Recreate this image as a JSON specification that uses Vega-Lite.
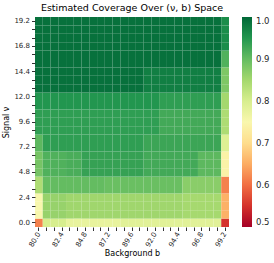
{
"$schema": "https://vega.github.io/schema/vega-lite/v6.json",
"width": 194, "height": 210,
"autosize": "none",
"padding": {"left": 35, "top": 17, "right": 45, "bottom": 36},
"title": {"text": "Estimated Coverage Over (ν, b) Space", "fontSize": 9.5, "font": "DejaVu Sans", "fontWeight": "normal", "color": "#000", "offset": 4},
"config": {"view": {"stroke": null}, "font": "DejaVu Sans"},
"data": {"values": [
{"b":80,"v":0,"c":0.615},{"b":80.8,"v":0,"c":0.8},{"b":81.6,"v":0,"c":0.8},{"b":82.4,"v":0,"c":0.8},{"b":83.2,"v":0,"c":0.775},{"b":84,"v":0,"c":0.775},{"b":84.8,"v":0,"c":0.775},{"b":85.6,"v":0,"c":0.775},{"b":86.4,"v":0,"c":0.775},{"b":87.2,"v":0,"c":0.775},{"b":88,"v":0,"c":0.775},{"b":88.8,"v":0,"c":0.785},{"b":89.6,"v":0,"c":0.785},{"b":90.4,"v":0,"c":0.785},{"b":91.2,"v":0,"c":0.785},{"b":92,"v":0,"c":0.785},{"b":92.8,"v":0,"c":0.785},{"b":93.6,"v":0,"c":0.785},{"b":94.4,"v":0,"c":0.785},{"b":95.2,"v":0,"c":0.785},{"b":96,"v":0,"c":0.785},{"b":96.8,"v":0,"c":0.785},{"b":97.6,"v":0,"c":0.785},{"b":98.4,"v":0,"c":0.785},{"b":99.2,"v":0,"c":0.55},
{"b":80,"v":0.8,"c":0.752},{"b":80.8,"v":0.8,"c":0.86},{"b":81.6,"v":0.8,"c":0.86},{"b":82.4,"v":0.8,"c":0.86},{"b":83.2,"v":0.8,"c":0.853},{"b":84,"v":0.8,"c":0.853},{"b":84.8,"v":0.8,"c":0.853},{"b":85.6,"v":0.8,"c":0.853},{"b":86.4,"v":0.8,"c":0.853},{"b":87.2,"v":0.8,"c":0.853},{"b":88,"v":0.8,"c":0.853},{"b":88.8,"v":0.8,"c":0.853},{"b":89.6,"v":0.8,"c":0.853},{"b":90.4,"v":0.8,"c":0.853},{"b":91.2,"v":0.8,"c":0.853},{"b":92,"v":0.8,"c":0.853},{"b":92.8,"v":0.8,"c":0.853},{"b":93.6,"v":0.8,"c":0.853},{"b":94.4,"v":0.8,"c":0.853},{"b":95.2,"v":0.8,"c":0.848},{"b":96,"v":0.8,"c":0.848},{"b":96.8,"v":0.8,"c":0.848},{"b":97.6,"v":0.8,"c":0.848},{"b":98.4,"v":0.8,"c":0.848},{"b":99.2,"v":0.8,"c":0.655},
{"b":80,"v":1.6,"c":0.752},{"b":80.8,"v":1.6,"c":0.86},{"b":81.6,"v":1.6,"c":0.86},{"b":82.4,"v":1.6,"c":0.86},{"b":83.2,"v":1.6,"c":0.853},{"b":84,"v":1.6,"c":0.853},{"b":84.8,"v":1.6,"c":0.853},{"b":85.6,"v":1.6,"c":0.853},{"b":86.4,"v":1.6,"c":0.853},{"b":87.2,"v":1.6,"c":0.853},{"b":88,"v":1.6,"c":0.853},{"b":88.8,"v":1.6,"c":0.853},{"b":89.6,"v":1.6,"c":0.853},{"b":90.4,"v":1.6,"c":0.853},{"b":91.2,"v":1.6,"c":0.853},{"b":92,"v":1.6,"c":0.853},{"b":92.8,"v":1.6,"c":0.853},{"b":93.6,"v":1.6,"c":0.853},{"b":94.4,"v":1.6,"c":0.853},{"b":95.2,"v":1.6,"c":0.848},{"b":96,"v":1.6,"c":0.848},{"b":96.8,"v":1.6,"c":0.848},{"b":97.6,"v":1.6,"c":0.848},{"b":98.4,"v":1.6,"c":0.848},{"b":99.2,"v":1.6,"c":0.655},
{"b":80,"v":2.4,"c":0.752},{"b":80.8,"v":2.4,"c":0.86},{"b":81.6,"v":2.4,"c":0.86},{"b":82.4,"v":2.4,"c":0.86},{"b":83.2,"v":2.4,"c":0.853},{"b":84,"v":2.4,"c":0.853},{"b":84.8,"v":2.4,"c":0.853},{"b":85.6,"v":2.4,"c":0.853},{"b":86.4,"v":2.4,"c":0.853},{"b":87.2,"v":2.4,"c":0.853},{"b":88,"v":2.4,"c":0.853},{"b":88.8,"v":2.4,"c":0.853},{"b":89.6,"v":2.4,"c":0.853},{"b":90.4,"v":2.4,"c":0.853},{"b":91.2,"v":2.4,"c":0.853},{"b":92,"v":2.4,"c":0.853},{"b":92.8,"v":2.4,"c":0.853},{"b":93.6,"v":2.4,"c":0.853},{"b":94.4,"v":2.4,"c":0.853},{"b":95.2,"v":2.4,"c":0.848},{"b":96,"v":2.4,"c":0.848},{"b":96.8,"v":2.4,"c":0.848},{"b":97.6,"v":2.4,"c":0.848},{"b":98.4,"v":2.4,"c":0.848},{"b":99.2,"v":2.4,"c":0.655},
{"b":80,"v":3.2,"c":0.84},{"b":80.8,"v":3.2,"c":0.9},{"b":81.6,"v":3.2,"c":0.9},{"b":82.4,"v":3.2,"c":0.9},{"b":83.2,"v":3.2,"c":0.9},{"b":84,"v":3.2,"c":0.9},{"b":84.8,"v":3.2,"c":0.9},{"b":85.6,"v":3.2,"c":0.9},{"b":86.4,"v":3.2,"c":0.9},{"b":87.2,"v":3.2,"c":0.895},{"b":88,"v":3.2,"c":0.895},{"b":88.8,"v":3.2,"c":0.895},{"b":89.6,"v":3.2,"c":0.895},{"b":90.4,"v":3.2,"c":0.895},{"b":91.2,"v":3.2,"c":0.895},{"b":92,"v":3.2,"c":0.895},{"b":92.8,"v":3.2,"c":0.895},{"b":93.6,"v":3.2,"c":0.895},{"b":94.4,"v":3.2,"c":0.895},{"b":95.2,"v":3.2,"c":0.87},{"b":96,"v":3.2,"c":0.87},{"b":96.8,"v":3.2,"c":0.87},{"b":97.6,"v":3.2,"c":0.87},{"b":98.4,"v":3.2,"c":0.87},{"b":99.2,"v":3.2,"c":0.615},
{"b":80,"v":4,"c":0.84},{"b":80.8,"v":4,"c":0.9},{"b":81.6,"v":4,"c":0.9},{"b":82.4,"v":4,"c":0.9},{"b":83.2,"v":4,"c":0.9},{"b":84,"v":4,"c":0.9},{"b":84.8,"v":4,"c":0.9},{"b":85.6,"v":4,"c":0.9},{"b":86.4,"v":4,"c":0.9},{"b":87.2,"v":4,"c":0.895},{"b":88,"v":4,"c":0.895},{"b":88.8,"v":4,"c":0.895},{"b":89.6,"v":4,"c":0.895},{"b":90.4,"v":4,"c":0.895},{"b":91.2,"v":4,"c":0.895},{"b":92,"v":4,"c":0.895},{"b":92.8,"v":4,"c":0.895},{"b":93.6,"v":4,"c":0.895},{"b":94.4,"v":4,"c":0.895},{"b":95.2,"v":4,"c":0.87},{"b":96,"v":4,"c":0.87},{"b":96.8,"v":4,"c":0.87},{"b":97.6,"v":4,"c":0.87},{"b":98.4,"v":4,"c":0.87},{"b":99.2,"v":4,"c":0.615},
{"b":80,"v":4.8,"c":0.885},{"b":80.8,"v":4.8,"c":0.915},{"b":81.6,"v":4.8,"c":0.915},{"b":82.4,"v":4.8,"c":0.915},{"b":83.2,"v":4.8,"c":0.92},{"b":84,"v":4.8,"c":0.92},{"b":84.8,"v":4.8,"c":0.935},{"b":85.6,"v":4.8,"c":0.935},{"b":86.4,"v":4.8,"c":0.935},{"b":87.2,"v":4.8,"c":0.935},{"b":88,"v":4.8,"c":0.935},{"b":88.8,"v":4.8,"c":0.935},{"b":89.6,"v":4.8,"c":0.935},{"b":90.4,"v":4.8,"c":0.935},{"b":91.2,"v":4.8,"c":0.925},{"b":92,"v":4.8,"c":0.925},{"b":92.8,"v":4.8,"c":0.925},{"b":93.6,"v":4.8,"c":0.925},{"b":94.4,"v":4.8,"c":0.925},{"b":95.2,"v":4.8,"c":0.925},{"b":96,"v":4.8,"c":0.925},{"b":96.8,"v":4.8,"c":0.905},{"b":97.6,"v":4.8,"c":0.905},{"b":98.4,"v":4.8,"c":0.905},{"b":99.2,"v":4.8,"c":0.74},
{"b":80,"v":5.6,"c":0.885},{"b":80.8,"v":5.6,"c":0.915},{"b":81.6,"v":5.6,"c":0.915},{"b":82.4,"v":5.6,"c":0.915},{"b":83.2,"v":5.6,"c":0.92},{"b":84,"v":5.6,"c":0.92},{"b":84.8,"v":5.6,"c":0.935},{"b":85.6,"v":5.6,"c":0.935},{"b":86.4,"v":5.6,"c":0.935},{"b":87.2,"v":5.6,"c":0.935},{"b":88,"v":5.6,"c":0.935},{"b":88.8,"v":5.6,"c":0.935},{"b":89.6,"v":5.6,"c":0.935},{"b":90.4,"v":5.6,"c":0.935},{"b":91.2,"v":5.6,"c":0.925},{"b":92,"v":5.6,"c":0.925},{"b":92.8,"v":5.6,"c":0.925},{"b":93.6,"v":5.6,"c":0.925},{"b":94.4,"v":5.6,"c":0.925},{"b":95.2,"v":5.6,"c":0.925},{"b":96,"v":5.6,"c":0.925},{"b":96.8,"v":5.6,"c":0.905},{"b":97.6,"v":5.6,"c":0.905},{"b":98.4,"v":5.6,"c":0.905},{"b":99.2,"v":5.6,"c":0.74},
{"b":80,"v":6.4,"c":0.885},{"b":80.8,"v":6.4,"c":0.915},{"b":81.6,"v":6.4,"c":0.915},{"b":82.4,"v":6.4,"c":0.915},{"b":83.2,"v":6.4,"c":0.92},{"b":84,"v":6.4,"c":0.92},{"b":84.8,"v":6.4,"c":0.935},{"b":85.6,"v":6.4,"c":0.935},{"b":86.4,"v":6.4,"c":0.935},{"b":87.2,"v":6.4,"c":0.935},{"b":88,"v":6.4,"c":0.935},{"b":88.8,"v":6.4,"c":0.935},{"b":89.6,"v":6.4,"c":0.935},{"b":90.4,"v":6.4,"c":0.935},{"b":91.2,"v":6.4,"c":0.925},{"b":92,"v":6.4,"c":0.925},{"b":92.8,"v":6.4,"c":0.925},{"b":93.6,"v":6.4,"c":0.925},{"b":94.4,"v":6.4,"c":0.925},{"b":95.2,"v":6.4,"c":0.925},{"b":96,"v":6.4,"c":0.925},{"b":96.8,"v":6.4,"c":0.905},{"b":97.6,"v":6.4,"c":0.905},{"b":98.4,"v":6.4,"c":0.905},{"b":99.2,"v":6.4,"c":0.74},
{"b":80,"v":7.2,"c":0.905},{"b":80.8,"v":7.2,"c":0.94},{"b":81.6,"v":7.2,"c":0.94},{"b":82.4,"v":7.2,"c":0.94},{"b":83.2,"v":7.2,"c":0.94},{"b":84,"v":7.2,"c":0.94},{"b":84.8,"v":7.2,"c":0.94},{"b":85.6,"v":7.2,"c":0.94},{"b":86.4,"v":7.2,"c":0.94},{"b":87.2,"v":7.2,"c":0.94},{"b":88,"v":7.2,"c":0.94},{"b":88.8,"v":7.2,"c":0.94},{"b":89.6,"v":7.2,"c":0.94},{"b":90.4,"v":7.2,"c":0.94},{"b":91.2,"v":7.2,"c":0.93},{"b":92,"v":7.2,"c":0.93},{"b":92.8,"v":7.2,"c":0.93},{"b":93.6,"v":7.2,"c":0.93},{"b":94.4,"v":7.2,"c":0.93},{"b":95.2,"v":7.2,"c":0.93},{"b":96,"v":7.2,"c":0.93},{"b":96.8,"v":7.2,"c":0.93},{"b":97.6,"v":7.2,"c":0.93},{"b":98.4,"v":7.2,"c":0.93},{"b":99.2,"v":7.2,"c":0.79},
{"b":80,"v":8,"c":0.905},{"b":80.8,"v":8,"c":0.94},{"b":81.6,"v":8,"c":0.94},{"b":82.4,"v":8,"c":0.94},{"b":83.2,"v":8,"c":0.94},{"b":84,"v":8,"c":0.94},{"b":84.8,"v":8,"c":0.94},{"b":85.6,"v":8,"c":0.94},{"b":86.4,"v":8,"c":0.94},{"b":87.2,"v":8,"c":0.94},{"b":88,"v":8,"c":0.94},{"b":88.8,"v":8,"c":0.94},{"b":89.6,"v":8,"c":0.94},{"b":90.4,"v":8,"c":0.94},{"b":91.2,"v":8,"c":0.93},{"b":92,"v":8,"c":0.93},{"b":92.8,"v":8,"c":0.93},{"b":93.6,"v":8,"c":0.93},{"b":94.4,"v":8,"c":0.93},{"b":95.2,"v":8,"c":0.93},{"b":96,"v":8,"c":0.93},{"b":96.8,"v":8,"c":0.93},{"b":97.6,"v":8,"c":0.93},{"b":98.4,"v":8,"c":0.93},{"b":99.2,"v":8,"c":0.79},
{"b":80,"v":8.8,"c":0.94},{"b":80.8,"v":8.8,"c":0.94},{"b":81.6,"v":8.8,"c":0.94},{"b":82.4,"v":8.8,"c":0.94},{"b":83.2,"v":8.8,"c":0.94},{"b":84,"v":8.8,"c":0.94},{"b":84.8,"v":8.8,"c":0.94},{"b":85.6,"v":8.8,"c":0.94},{"b":86.4,"v":8.8,"c":0.94},{"b":87.2,"v":8.8,"c":0.94},{"b":88,"v":8.8,"c":0.94},{"b":88.8,"v":8.8,"c":0.94},{"b":89.6,"v":8.8,"c":0.94},{"b":90.4,"v":8.8,"c":0.94},{"b":91.2,"v":8.8,"c":0.94},{"b":92,"v":8.8,"c":0.94},{"b":92.8,"v":8.8,"c":0.925},{"b":93.6,"v":8.8,"c":0.925},{"b":94.4,"v":8.8,"c":0.925},{"b":95.2,"v":8.8,"c":0.925},{"b":96,"v":8.8,"c":0.925},{"b":96.8,"v":8.8,"c":0.925},{"b":97.6,"v":8.8,"c":0.925},{"b":98.4,"v":8.8,"c":0.925},{"b":99.2,"v":8.8,"c":0.84},
{"b":80,"v":9.6,"c":0.94},{"b":80.8,"v":9.6,"c":0.94},{"b":81.6,"v":9.6,"c":0.94},{"b":82.4,"v":9.6,"c":0.94},{"b":83.2,"v":9.6,"c":0.94},{"b":84,"v":9.6,"c":0.94},{"b":84.8,"v":9.6,"c":0.94},{"b":85.6,"v":9.6,"c":0.94},{"b":86.4,"v":9.6,"c":0.94},{"b":87.2,"v":9.6,"c":0.94},{"b":88,"v":9.6,"c":0.94},{"b":88.8,"v":9.6,"c":0.94},{"b":89.6,"v":9.6,"c":0.94},{"b":90.4,"v":9.6,"c":0.94},{"b":91.2,"v":9.6,"c":0.94},{"b":92,"v":9.6,"c":0.94},{"b":92.8,"v":9.6,"c":0.925},{"b":93.6,"v":9.6,"c":0.925},{"b":94.4,"v":9.6,"c":0.925},{"b":95.2,"v":9.6,"c":0.925},{"b":96,"v":9.6,"c":0.925},{"b":96.8,"v":9.6,"c":0.925},{"b":97.6,"v":9.6,"c":0.925},{"b":98.4,"v":9.6,"c":0.925},{"b":99.2,"v":9.6,"c":0.84},
{"b":80,"v":10.4,"c":0.94},{"b":80.8,"v":10.4,"c":0.94},{"b":81.6,"v":10.4,"c":0.94},{"b":82.4,"v":10.4,"c":0.94},{"b":83.2,"v":10.4,"c":0.94},{"b":84,"v":10.4,"c":0.94},{"b":84.8,"v":10.4,"c":0.94},{"b":85.6,"v":10.4,"c":0.94},{"b":86.4,"v":10.4,"c":0.94},{"b":87.2,"v":10.4,"c":0.94},{"b":88,"v":10.4,"c":0.94},{"b":88.8,"v":10.4,"c":0.94},{"b":89.6,"v":10.4,"c":0.94},{"b":90.4,"v":10.4,"c":0.94},{"b":91.2,"v":10.4,"c":0.94},{"b":92,"v":10.4,"c":0.94},{"b":92.8,"v":10.4,"c":0.925},{"b":93.6,"v":10.4,"c":0.925},{"b":94.4,"v":10.4,"c":0.925},{"b":95.2,"v":10.4,"c":0.925},{"b":96,"v":10.4,"c":0.925},{"b":96.8,"v":10.4,"c":0.925},{"b":97.6,"v":10.4,"c":0.925},{"b":98.4,"v":10.4,"c":0.925},{"b":99.2,"v":10.4,"c":0.84},
{"b":80,"v":11.2,"c":0.95},{"b":80.8,"v":11.2,"c":0.95},{"b":81.6,"v":11.2,"c":0.95},{"b":82.4,"v":11.2,"c":0.95},{"b":83.2,"v":11.2,"c":0.95},{"b":84,"v":11.2,"c":0.95},{"b":84.8,"v":11.2,"c":0.95},{"b":85.6,"v":11.2,"c":0.95},{"b":86.4,"v":11.2,"c":0.95},{"b":87.2,"v":11.2,"c":0.95},{"b":88,"v":11.2,"c":0.95},{"b":88.8,"v":11.2,"c":0.95},{"b":89.6,"v":11.2,"c":0.95},{"b":90.4,"v":11.2,"c":0.95},{"b":91.2,"v":11.2,"c":0.95},{"b":92,"v":11.2,"c":0.95},{"b":92.8,"v":11.2,"c":0.94},{"b":93.6,"v":11.2,"c":0.94},{"b":94.4,"v":11.2,"c":0.94},{"b":95.2,"v":11.2,"c":0.94},{"b":96,"v":11.2,"c":0.94},{"b":96.8,"v":11.2,"c":0.94},{"b":97.6,"v":11.2,"c":0.94},{"b":98.4,"v":11.2,"c":0.94},{"b":99.2,"v":11.2,"c":0.85},
{"b":80,"v":12,"c":0.95},{"b":80.8,"v":12,"c":0.95},{"b":81.6,"v":12,"c":0.95},{"b":82.4,"v":12,"c":0.95},{"b":83.2,"v":12,"c":0.95},{"b":84,"v":12,"c":0.95},{"b":84.8,"v":12,"c":0.95},{"b":85.6,"v":12,"c":0.95},{"b":86.4,"v":12,"c":0.95},{"b":87.2,"v":12,"c":0.95},{"b":88,"v":12,"c":0.95},{"b":88.8,"v":12,"c":0.95},{"b":89.6,"v":12,"c":0.95},{"b":90.4,"v":12,"c":0.95},{"b":91.2,"v":12,"c":0.95},{"b":92,"v":12,"c":0.95},{"b":92.8,"v":12,"c":0.94},{"b":93.6,"v":12,"c":0.94},{"b":94.4,"v":12,"c":0.94},{"b":95.2,"v":12,"c":0.94},{"b":96,"v":12,"c":0.94},{"b":96.8,"v":12,"c":0.94},{"b":97.6,"v":12,"c":0.94},{"b":98.4,"v":12,"c":0.94},{"b":99.2,"v":12,"c":0.85},
{"b":80,"v":12.8,"c":0.99},{"b":80.8,"v":12.8,"c":0.99},{"b":81.6,"v":12.8,"c":0.99},{"b":82.4,"v":12.8,"c":0.99},{"b":83.2,"v":12.8,"c":0.99},{"b":84,"v":12.8,"c":0.99},{"b":84.8,"v":12.8,"c":0.99},{"b":85.6,"v":12.8,"c":0.99},{"b":86.4,"v":12.8,"c":0.99},{"b":87.2,"v":12.8,"c":0.99},{"b":88,"v":12.8,"c":0.99},{"b":88.8,"v":12.8,"c":0.99},{"b":89.6,"v":12.8,"c":0.99},{"b":90.4,"v":12.8,"c":0.99},{"b":91.2,"v":12.8,"c":0.975},{"b":92,"v":12.8,"c":0.975},{"b":92.8,"v":12.8,"c":0.975},{"b":93.6,"v":12.8,"c":0.975},{"b":94.4,"v":12.8,"c":0.975},{"b":95.2,"v":12.8,"c":0.975},{"b":96,"v":12.8,"c":0.975},{"b":96.8,"v":12.8,"c":0.975},{"b":97.6,"v":12.8,"c":0.975},{"b":98.4,"v":12.8,"c":0.975},{"b":99.2,"v":12.8,"c":0.88},
{"b":80,"v":13.6,"c":0.99},{"b":80.8,"v":13.6,"c":0.99},{"b":81.6,"v":13.6,"c":0.99},{"b":82.4,"v":13.6,"c":0.99},{"b":83.2,"v":13.6,"c":0.99},{"b":84,"v":13.6,"c":0.99},{"b":84.8,"v":13.6,"c":0.99},{"b":85.6,"v":13.6,"c":0.99},{"b":86.4,"v":13.6,"c":0.99},{"b":87.2,"v":13.6,"c":0.99},{"b":88,"v":13.6,"c":0.99},{"b":88.8,"v":13.6,"c":0.99},{"b":89.6,"v":13.6,"c":0.99},{"b":90.4,"v":13.6,"c":0.99},{"b":91.2,"v":13.6,"c":0.975},{"b":92,"v":13.6,"c":0.975},{"b":92.8,"v":13.6,"c":0.975},{"b":93.6,"v":13.6,"c":0.975},{"b":94.4,"v":13.6,"c":0.975},{"b":95.2,"v":13.6,"c":0.975},{"b":96,"v":13.6,"c":0.975},{"b":96.8,"v":13.6,"c":0.975},{"b":97.6,"v":13.6,"c":0.975},{"b":98.4,"v":13.6,"c":0.975},{"b":99.2,"v":13.6,"c":0.88},
{"b":80,"v":14.4,"c":0.99},{"b":80.8,"v":14.4,"c":0.99},{"b":81.6,"v":14.4,"c":0.99},{"b":82.4,"v":14.4,"c":0.99},{"b":83.2,"v":14.4,"c":0.99},{"b":84,"v":14.4,"c":0.99},{"b":84.8,"v":14.4,"c":0.99},{"b":85.6,"v":14.4,"c":0.99},{"b":86.4,"v":14.4,"c":0.99},{"b":87.2,"v":14.4,"c":0.99},{"b":88,"v":14.4,"c":0.99},{"b":88.8,"v":14.4,"c":0.99},{"b":89.6,"v":14.4,"c":0.99},{"b":90.4,"v":14.4,"c":0.99},{"b":91.2,"v":14.4,"c":0.975},{"b":92,"v":14.4,"c":0.975},{"b":92.8,"v":14.4,"c":0.975},{"b":93.6,"v":14.4,"c":0.975},{"b":94.4,"v":14.4,"c":0.975},{"b":95.2,"v":14.4,"c":0.975},{"b":96,"v":14.4,"c":0.975},{"b":96.8,"v":14.4,"c":0.975},{"b":97.6,"v":14.4,"c":0.975},{"b":98.4,"v":14.4,"c":0.975},{"b":99.2,"v":14.4,"c":0.88},
{"b":80,"v":15.2,"c":0.99},{"b":80.8,"v":15.2,"c":0.99},{"b":81.6,"v":15.2,"c":0.99},{"b":82.4,"v":15.2,"c":0.99},{"b":83.2,"v":15.2,"c":0.99},{"b":84,"v":15.2,"c":0.99},{"b":84.8,"v":15.2,"c":0.99},{"b":85.6,"v":15.2,"c":0.99},{"b":86.4,"v":15.2,"c":0.99},{"b":87.2,"v":15.2,"c":0.99},{"b":88,"v":15.2,"c":0.99},{"b":88.8,"v":15.2,"c":0.99},{"b":89.6,"v":15.2,"c":0.99},{"b":90.4,"v":15.2,"c":0.99},{"b":91.2,"v":15.2,"c":0.99},{"b":92,"v":15.2,"c":0.99},{"b":92.8,"v":15.2,"c":0.99},{"b":93.6,"v":15.2,"c":0.99},{"b":94.4,"v":15.2,"c":0.99},{"b":95.2,"v":15.2,"c":0.99},{"b":96,"v":15.2,"c":0.99},{"b":96.8,"v":15.2,"c":0.99},{"b":97.6,"v":15.2,"c":0.99},{"b":98.4,"v":15.2,"c":0.99},{"b":99.2,"v":15.2,"c":0.915},
{"b":80,"v":16,"c":0.99},{"b":80.8,"v":16,"c":0.99},{"b":81.6,"v":16,"c":0.99},{"b":82.4,"v":16,"c":0.99},{"b":83.2,"v":16,"c":0.99},{"b":84,"v":16,"c":0.99},{"b":84.8,"v":16,"c":0.99},{"b":85.6,"v":16,"c":0.99},{"b":86.4,"v":16,"c":0.99},{"b":87.2,"v":16,"c":0.99},{"b":88,"v":16,"c":0.99},{"b":88.8,"v":16,"c":0.99},{"b":89.6,"v":16,"c":0.99},{"b":90.4,"v":16,"c":0.99},{"b":91.2,"v":16,"c":0.99},{"b":92,"v":16,"c":0.99},{"b":92.8,"v":16,"c":0.99},{"b":93.6,"v":16,"c":0.99},{"b":94.4,"v":16,"c":0.99},{"b":95.2,"v":16,"c":0.99},{"b":96,"v":16,"c":0.99},{"b":96.8,"v":16,"c":0.99},{"b":97.6,"v":16,"c":0.99},{"b":98.4,"v":16,"c":0.99},{"b":99.2,"v":16,"c":0.915},
{"b":80,"v":16.8,"c":0.99},{"b":80.8,"v":16.8,"c":0.99},{"b":81.6,"v":16.8,"c":0.99},{"b":82.4,"v":16.8,"c":0.99},{"b":83.2,"v":16.8,"c":0.99},{"b":84,"v":16.8,"c":0.99},{"b":84.8,"v":16.8,"c":0.99},{"b":85.6,"v":16.8,"c":0.99},{"b":86.4,"v":16.8,"c":0.99},{"b":87.2,"v":16.8,"c":0.99},{"b":88,"v":16.8,"c":0.99},{"b":88.8,"v":16.8,"c":0.99},{"b":89.6,"v":16.8,"c":0.99},{"b":90.4,"v":16.8,"c":0.99},{"b":91.2,"v":16.8,"c":0.99},{"b":92,"v":16.8,"c":0.99},{"b":92.8,"v":16.8,"c":0.99},{"b":93.6,"v":16.8,"c":0.99},{"b":94.4,"v":16.8,"c":0.99},{"b":95.2,"v":16.8,"c":0.99},{"b":96,"v":16.8,"c":0.99},{"b":96.8,"v":16.8,"c":0.99},{"b":97.6,"v":16.8,"c":0.99},{"b":98.4,"v":16.8,"c":0.99},{"b":99.2,"v":16.8,"c":0.96},
{"b":80,"v":17.6,"c":0.99},{"b":80.8,"v":17.6,"c":0.99},{"b":81.6,"v":17.6,"c":0.99},{"b":82.4,"v":17.6,"c":0.99},{"b":83.2,"v":17.6,"c":0.99},{"b":84,"v":17.6,"c":0.99},{"b":84.8,"v":17.6,"c":0.99},{"b":85.6,"v":17.6,"c":0.99},{"b":86.4,"v":17.6,"c":0.99},{"b":87.2,"v":17.6,"c":0.99},{"b":88,"v":17.6,"c":0.99},{"b":88.8,"v":17.6,"c":0.99},{"b":89.6,"v":17.6,"c":0.99},{"b":90.4,"v":17.6,"c":0.99},{"b":91.2,"v":17.6,"c":0.99},{"b":92,"v":17.6,"c":0.99},{"b":92.8,"v":17.6,"c":0.99},{"b":93.6,"v":17.6,"c":0.99},{"b":94.4,"v":17.6,"c":0.99},{"b":95.2,"v":17.6,"c":0.99},{"b":96,"v":17.6,"c":0.99},{"b":96.8,"v":17.6,"c":0.99},{"b":97.6,"v":17.6,"c":0.99},{"b":98.4,"v":17.6,"c":0.99},{"b":99.2,"v":17.6,"c":0.96},
{"b":80,"v":18.4,"c":0.99},{"b":80.8,"v":18.4,"c":0.99},{"b":81.6,"v":18.4,"c":0.99},{"b":82.4,"v":18.4,"c":0.99},{"b":83.2,"v":18.4,"c":0.99},{"b":84,"v":18.4,"c":0.99},{"b":84.8,"v":18.4,"c":0.99},{"b":85.6,"v":18.4,"c":0.99},{"b":86.4,"v":18.4,"c":0.99},{"b":87.2,"v":18.4,"c":0.99},{"b":88,"v":18.4,"c":0.99},{"b":88.8,"v":18.4,"c":0.99},{"b":89.6,"v":18.4,"c":0.99},{"b":90.4,"v":18.4,"c":0.99},{"b":91.2,"v":18.4,"c":0.99},{"b":92,"v":18.4,"c":0.99},{"b":92.8,"v":18.4,"c":0.99},{"b":93.6,"v":18.4,"c":0.99},{"b":94.4,"v":18.4,"c":0.99},{"b":95.2,"v":18.4,"c":0.99},{"b":96,"v":18.4,"c":0.99},{"b":96.8,"v":18.4,"c":0.99},{"b":97.6,"v":18.4,"c":0.99},{"b":98.4,"v":18.4,"c":0.99},{"b":99.2,"v":18.4,"c":0.96},
{"b":80,"v":19.2,"c":0.99},{"b":80.8,"v":19.2,"c":0.99},{"b":81.6,"v":19.2,"c":0.99},{"b":82.4,"v":19.2,"c":0.99},{"b":83.2,"v":19.2,"c":0.99},{"b":84,"v":19.2,"c":0.99},{"b":84.8,"v":19.2,"c":0.99},{"b":85.6,"v":19.2,"c":0.99},{"b":86.4,"v":19.2,"c":0.99},{"b":87.2,"v":19.2,"c":0.99},{"b":88,"v":19.2,"c":0.99},{"b":88.8,"v":19.2,"c":0.99},{"b":89.6,"v":19.2,"c":0.99},{"b":90.4,"v":19.2,"c":0.99},{"b":91.2,"v":19.2,"c":0.99},{"b":92,"v":19.2,"c":0.99},{"b":92.8,"v":19.2,"c":0.99},{"b":93.6,"v":19.2,"c":0.99},{"b":94.4,"v":19.2,"c":0.99},{"b":95.2,"v":19.2,"c":0.99},{"b":96,"v":19.2,"c":0.99},{"b":96.8,"v":19.2,"c":0.99},{"b":97.6,"v":19.2,"c":0.99},{"b":98.4,"v":19.2,"c":0.99},{"b":99.2,"v":19.2,"c":0.96}
]},
"mark": {"type": "rect", "stroke": "white", "strokeWidth": 0.3, "strokeOpacity": 0.05},
"encoding": {
 "x": {"field": "b", "type": "ordinal", "scale": {"paddingInner": 0, "paddingOuter": 0},
  "axis": {"title": "Background b", "labelExpr": "indexof([80,82.4,84.8,87.2,89.6,92,94.4,96.8,99.2], datum.value) >= 0 ? format(datum.value, '.1f') : ''", "labelAngle": -60, "labelAlign": "right", "labelBaseline": "middle", "labelFontSize": 7, "labelColor": "#262626", "titleFontSize": 8, "titleFontWeight": "normal", "titleColor": "#000", "tickSize": 3.5, "tickColor": "#333", "domain": false, "labelPadding": 2, "titlePadding": 2, "labelOverlap": false}},
 "y": {"field": "v", "type": "ordinal", "sort": "descending", "scale": {"paddingInner": 0, "paddingOuter": 0},
  "axis": {"title": "Signal ν", "labelExpr": "indexof([0,2.4,4.8,7.2,9.6,12,14.4,16.8,19.2], datum.value) >= 0 ? format(datum.value, '.1f') : ''", "labelAngle": 0, "labelFontSize": 7, "labelColor": "#262626", "titleFontSize": 8, "titleFontWeight": "normal", "titleColor": "#000", "tickSize": 3.5, "tickColor": "#333", "domain": false, "labelPadding": 2, "titlePadding": 3, "labelOverlap": false}},
 "color": {"field": "c", "type": "quantitative", "scale": {"scheme": "redyellowgreen", "domain": [0.5, 1]},
  "legend": {"title": null, "direction": "vertical", "gradientLength": 210, "gradientThickness": 10, "offset": 13, "padding": 0, "values": [0.5, 0.6, 0.7, 0.8, 0.9, 1.0], "format": ".1f", "labelFontSize": 8.5, "labelColor": "#262626", "labelOffset": 4, "gradientStrokeWidth": 0}}
}
}
